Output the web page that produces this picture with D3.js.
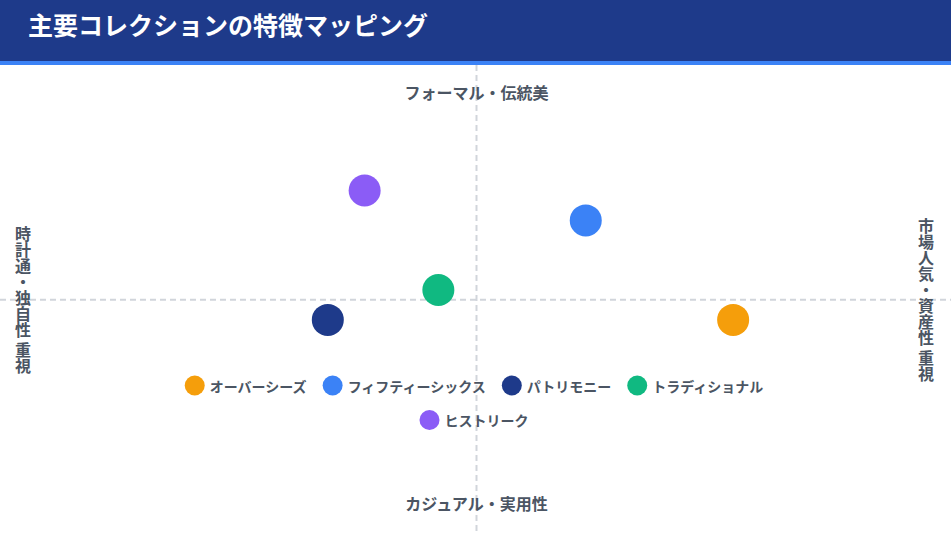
<!DOCTYPE html>
<html lang="ja">
<head>
<meta charset="utf-8">
<script src="https://cdn.jsdelivr.net/npm/d3@7"></script>
<style>
  html, body { margin: 0; padding: 0; background: #ffffff; }
  svg { display: block; font-family: "Noto Sans CJK JP", "Noto Sans", sans-serif; }
</style>
</head>
<body>
<svg id="chart" width="951" height="533"></svg>
<script>
// ---- data ----
const title = "主要コレクションの特徴マッピング";
const brands = ["オーバーシーズ", "フィフティーシックス", "パトリモニー", "トラディショナル", "ヒストリーク"];
const xValues = [7, 3, -4, -1, -3];       // 市場人気・資産性 (+) ↔ 時計通・独自性 (-)
const yValues = [-1, 4, -1, 0.5, 5.5];    // フォーマル・伝統美 (+) ↔ カジュアル・実用性 (-)
const colors = ["#f59e0b", "#3b82f6", "#1e3a8a", "#10b981", "#8b5cf6"];
const axisLabels = { top: "フォーマル・伝統美", bottom: "カジュアル・実用性", left: "時計通・独自性 重視", right: "市場人気・資産性 重視" };

const W = 951, H = 533;
const svg = d3.select("#chart");

// header
svg.append("rect").attr("x", 0).attr("y", 0).attr("width", W).attr("height", 61).attr("fill", "#1e3a8a");
svg.append("rect").attr("x", 0).attr("y", 61).attr("width", W).attr("height", 4).attr("fill", "#3b82f6");
svg.append("text").attr("x", 28).attr("y", 34.5).attr("fill", "#ffffff")
  .attr("font-size", 25).attr("font-weight", 700).text(title);

// scales
const x = d3.scaleLinear().domain([-10, 10]).range([106.7, 843.7]);
const y = d3.scaleLinear().domain([-10, 10]).range([499, 101]);

// quadrant guide lines
const cx = 476.5, cy = 299.7;
svg.append("line").attr("x1", cx).attr("x2", cx).attr("y1", 65).attr("y2", H)
  .attr("stroke", "#d1d5db").attr("stroke-width", 2).attr("stroke-dasharray", "6,4");
svg.append("line").attr("x1", 0).attr("x2", W).attr("y1", cy).attr("y2", cy)
  .attr("stroke", "#d1d5db").attr("stroke-width", 2).attr("stroke-dasharray", "6,4");

// axis labels
const labColor = "#4b5563";
svg.append("text").attr("x", cx).attr("y", 91.5).attr("text-anchor", "middle").attr("dominant-baseline", "central")
  .attr("fill", labColor).attr("font-size", 16).attr("font-weight", 700).text(axisLabels.top);
svg.append("text").attr("x", cx).attr("y", 503).attr("text-anchor", "middle").attr("dominant-baseline", "central")
  .attr("fill", labColor).attr("font-size", 16).attr("font-weight", 700).text(axisLabels.bottom);
svg.append("text").attr("x", 23).attr("y", 300).attr("text-anchor", "middle")
  .style("writing-mode", "vertical-rl")
  .attr("fill", labColor).attr("font-size", 16).attr("font-weight", 700).text(axisLabels.left);
svg.append("text").attr("x", 926).attr("y", 300).attr("text-anchor", "middle")
  .style("writing-mode", "vertical-rl")
  .attr("fill", labColor).attr("font-size", 16).attr("font-weight", 700).text(axisLabels.right);

// bubbles
const data = brands.map((b, i) => ({ name: b, x: xValues[i], y: yValues[i], color: colors[i] }));
svg.append("g").selectAll("circle").data(data).join("circle")
  .attr("cx", d => x(d.x)).attr("cy", d => y(d.y)).attr("r", 16)
  .attr("fill", d => d.color);

// legend (wrapping, centered)
const legend = svg.append("g");
const items = legend.selectAll("g").data(data).join("g");
items.append("circle").attr("r", 10).attr("cx", 10).attr("cy", 0).attr("fill", d => d.color);
items.append("text").attr("x", 25).attr("y", 0).attr("dominant-baseline", "central")
  .attr("fill", labColor).attr("font-size", 14).attr("font-weight", 700).text(d => d.name);
const maxW = 640, gap = 16, rowH = 34.5, legendCx = 474, legendTop = 385.5;
const widths = [];
items.each(function () { widths.push(25 + d3.select(this).select("text").node().getComputedTextLength()); });
const rows = [[]];
let cur = 0;
widths.forEach((w, i) => {
  const add = rows[rows.length - 1].length ? gap + w : w;
  if (cur + add > maxW && rows[rows.length - 1].length) { rows.push([i]); cur = w; }
  else { rows[rows.length - 1].push(i); cur += add; }
});
rows.forEach((row, r) => {
  const total = row.reduce((s, i) => s + widths[i], 0) + gap * (row.length - 1);
  let xx = legendCx - total / 2;
  row.forEach(i => {
    d3.select(items.nodes()[i]).attr("transform", `translate(${xx},${legendTop + r * rowH})`);
    xx += widths[i] + gap;
  });
});
</script>
</body>
</html>
